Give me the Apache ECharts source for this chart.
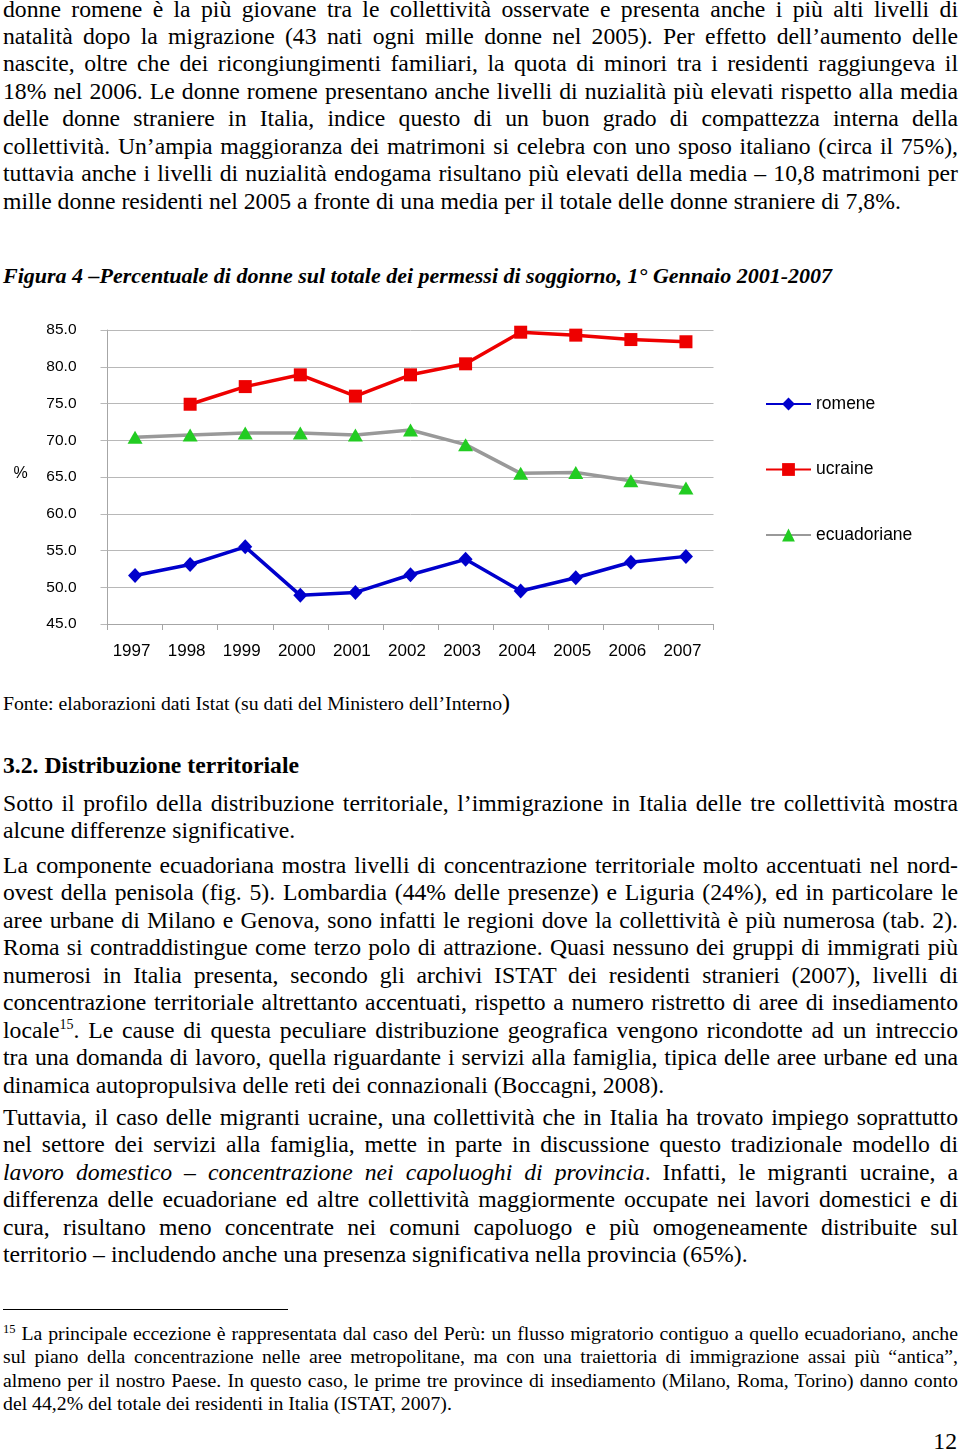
<!DOCTYPE html>
<html>
<head>
<meta charset="utf-8">
<script src="https://cdn.jsdelivr.net/npm/echarts@6/dist/echarts.min.js"></script>
<style>
html,body{margin:0;padding:0;background:#fff;}
body{width:960px;height:1451px;position:relative;overflow:hidden;font-family:"Liberation Serif","Times New Roman",serif;color:#000;}
.blk{position:absolute;left:3px;width:955px;font-size:23.7px;line-height:27.45px;}
.blk div{text-align:justify;text-align-last:justify;}
.blk div.last{text-align:left;text-align-last:left;}
.sup{font-size:14px;vertical-align:9px;line-height:0;}
.fn{font-size:19.75px;line-height:23.4px;}
.fn .sup{font-size:12.5px;vertical-align:7px;}
#chart{position:absolute;left:0;top:300px;width:960px;height:370px;}
</style>
</head>
<body>

<div class="blk" style="top:-4.5px;">
<div>donne romene è la più giovane tra le collettività osservate e presenta anche i più alti livelli di</div>
<div>natalità dopo la migrazione (43 nati ogni mille donne nel 2005). Per effetto dell’aumento delle</div>
<div>nascite, oltre che dei ricongiungimenti familiari, la quota di minori tra i residenti raggiungeva il</div>
<div>18% nel 2006. Le donne romene presentano anche livelli di nuzialità più elevati rispetto alla media</div>
<div>delle donne straniere in Italia, indice questo di un buon grado di compattezza interna della</div>
<div>collettività. Un’ampia maggioranza dei matrimoni si celebra con uno sposo italiano (circa il 75%),</div>
<div>tuttavia anche i livelli di nuzialità endogama risultano più elevati della media – 10,8 matrimoni per</div>
<div class="last">mille donne residenti nel 2005 a fronte di una media per il totale delle donne straniere di 7,8%.</div>
</div>

<div class="blk" style="top:263px;font-size:22px;line-height:26px;font-weight:bold;font-style:italic;">
<div class="last">Figura 4 –Percentuale di donne sul totale dei permessi di soggiorno, 1° Gennaio 2001-2007</div>
</div>

<div id="chart"></div>

<div class="blk" style="top:692px;font-size:19.75px;line-height:23px;">
<div class="last">Fonte: elaborazioni dati Istat (su dati del Ministero dell’Interno<span style="font-size:24px;line-height:0;">)</span></div>
</div>

<div class="blk" style="top:751.5px;font-weight:bold;">
<div class="last">3.2. Distribuzione territoriale</div>
</div>

<div class="blk" style="top:790px;">
<div>Sotto il profilo della distribuzione territoriale, l’immigrazione in Italia delle tre collettività mostra</div>
<div class="last">alcune differenze significative.</div>
</div>

<div class="blk" style="top:852px;">
<div>La componente ecuadoriana mostra livelli di concentrazione territoriale molto accentuati nel nord-</div>
<div>ovest della penisola (fig. 5). Lombardia (44% delle presenze) e Liguria (24%), ed in particolare le</div>
<div>aree urbane di Milano e Genova, sono infatti le regioni dove la collettività è più numerosa (tab. 2).</div>
<div>Roma si contraddistingue come terzo polo di attrazione. Quasi nessuno dei gruppi di immigrati più</div>
<div>numerosi in Italia presenta, secondo gli archivi ISTAT dei residenti stranieri (2007), livelli di</div>
<div>concentrazione territoriale altrettanto accentuati, rispetto a numero ristretto di aree di insediamento</div>
<div>locale<span class="sup">15</span>. Le cause di questa peculiare distribuzione geografica vengono ricondotte ad un intreccio</div>
<div>tra una domanda di lavoro, quella riguardante i servizi alla famiglia, tipica delle aree urbane ed una</div>
<div class="last">dinamica autopropulsiva delle reti dei connazionali (Boccagni, 2008).</div>
</div>

<div class="blk" style="top:1104px;">
<div>Tuttavia, il caso delle migranti ucraine, una collettività che in Italia ha trovato impiego soprattutto</div>
<div>nel settore dei servizi alla famiglia, mette in parte in discussione questo tradizionale modello di</div>
<div><i>lavoro domestico – concentrazione nei capoluoghi di provincia</i>. Infatti, le migranti ucraine, a</div>
<div>differenza delle ecuadoriane ed altre collettività maggiormente occupate nei lavori domestici e di</div>
<div>cura, risultano meno concentrate nei comuni capoluogo e più omogeneamente distribuite sul</div>
<div class="last">territorio – includendo anche una presenza significativa nella provincia (65%).</div>
</div>

<div style="position:absolute;left:3px;top:1309px;width:285px;height:1px;background:#000;"></div>

<div class="blk fn" style="top:1322px;">
<div><span class="sup">15</span> La principale eccezione è rappresentata dal caso del Perù: un flusso migratorio contiguo a quello ecuadoriano, anche</div>
<div>sul piano della concentrazione nelle aree metropolitane, ma con una traiettoria di immigrazione assai più “antica”,</div>
<div>almeno per il nostro Paese. In questo caso, le prime tre province di insediamento (Milano, Roma, Torino) danno conto</div>
<div class="last">del 44,2% del totale dei residenti in Italia (ISTAT, 2007).</div>
</div>

<div style="position:absolute;right:3px;top:1427.5px;font-size:23.7px;line-height:27.3px;">12</div>

<script>
const years = ['1997','1998','1999','2000','2001','2002','2003','2004','2005','2006','2007'];
const seriesNames = ['romene','ucraine','ecuadoriane'];
const romene = [51.6, 53.1, 55.5, 48.9, 49.3, 51.7, 53.8, 49.5, 51.3, 53.4, 54.2];
const ucraine = [null, 74.9, 77.3, 78.9, 76.0, 78.9, 80.4, 84.7, 84.3, 83.7, 83.4];
const ecuadoriane = [70.4, 70.7, 71.0, 71.0, 70.7, 71.4, 69.4, 65.5, 65.6, 64.5, 63.5];
const yTicks = {min: 45, max: 85, interval: 5};
const yUnit = '%';

const chart = echarts.init(document.getElementById('chart'), null, {renderer: 'canvas'});
chart.setOption({
  animation: false,
  textStyle: {fontFamily: '"Liberation Sans", Arial, sans-serif', color: '#000'},
  grid: {left: 107.5, top: 30, width: 606, height: 294, containLabel: false},
  xAxis: {
    type: 'category', data: years, boundaryGap: true,
    axisLine: {show: true, lineStyle: {color: '#a6a6a6', width: 1}},
    axisTick: {show: true, length: 6, alignWithLabel: false, lineStyle: {color: '#a6a6a6'}},
    axisLabel: {fontSize: 17, color: '#000', margin: 19, padding: [0, 7, 0, 0], interval: 0},
    splitLine: {show: false}
  },
  yAxis: {
    type: 'value', min: yTicks.min, max: yTicks.max, interval: yTicks.interval,
    axisLine: {show: true, lineStyle: {color: '#a6a6a6'}},
    axisTick: {show: true, length: 7, lineStyle: {color: '#b8b8b8'}},
    axisLabel: {fontSize: 15.5, color: '#000', margin: 31, formatter: v => v.toFixed(1)},
    splitLine: {show: true, lineStyle: {color: '#b8b8b8', width: 1}}
  },
  legend: {
    orient: 'vertical', left: 765, top: 94, padding: 0,
    itemWidth: 45, itemHeight: 16, itemGap: 45.5,
    textStyle: {fontSize: 17.5, color: '#000', lineHeight: 20},
    data: seriesNames
  },
  graphic: [{
    type: 'text', x: 20.5, y: 174,
    style: {text: yUnit, fontSize: 16, fontFamily: '"Liberation Sans", Arial, sans-serif', fill: '#000', align: 'center', verticalAlign: 'middle'}
  }],
  series: [
    {name: seriesNames[0], type: 'line', data: romene, symbol: 'diamond', symbolSize: [14, 15], showAllSymbol: true,
     lineStyle: {color: '#0000cc', width: 3.5}, itemStyle: {color: '#0000cc'}, emphasis: {disabled: true}},
    {name: seriesNames[1], type: 'line', data: ucraine, symbol: 'rect', symbolSize: [13, 13], showAllSymbol: true,
     lineStyle: {color: '#ee0000', width: 3.5}, itemStyle: {color: '#ee0000'}, emphasis: {disabled: true}},
    {name: seriesNames[2], type: 'line', data: ecuadoriane, symbol: 'triangle', symbolSize: [15, 13], showAllSymbol: true,
     lineStyle: {color: '#999999', width: 3.5}, itemStyle: {color: '#22cc22'}, emphasis: {disabled: true}}
  ]
});
</script>
</body>
</html>
